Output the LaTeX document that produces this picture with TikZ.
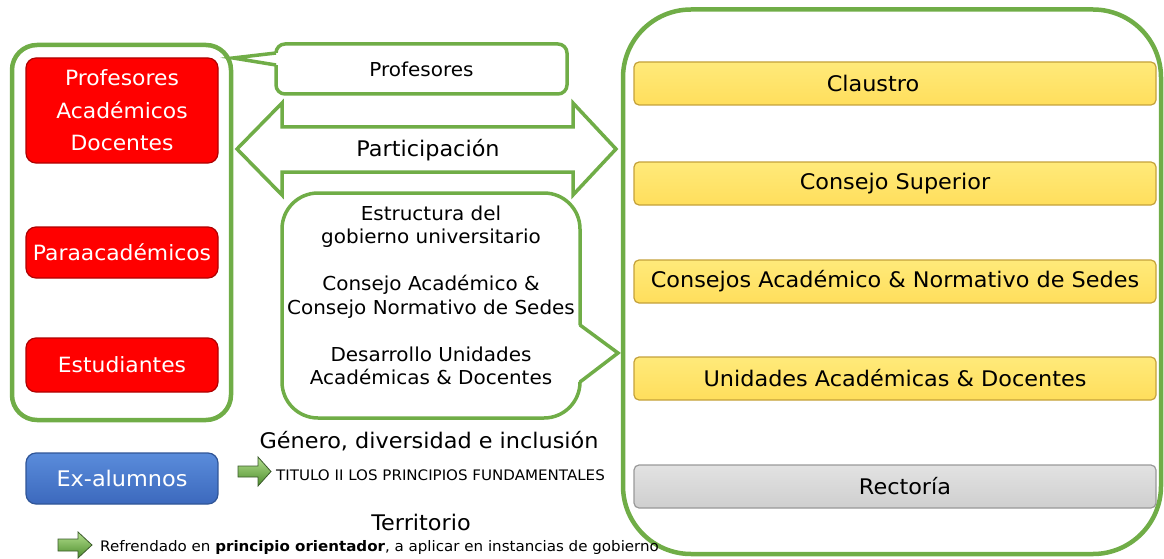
\documentclass[tikz,border=0pt]{standalone}
\usepackage{fontspec}
\setmainfont[FakeStretch=1.04]{DejaVu Sans}
\definecolor{gr}{HTML}{70AD47}
\definecolor{rd}{HTML}{FF0000}
\definecolor{rdD}{HTML}{B00000}
\definecolor{blT}{HTML}{5A8CDB}
\definecolor{blB}{HTML}{3C69BD}
\definecolor{blD}{HTML}{2F5597}
\definecolor{ylT}{HTML}{FFEA7A}
\definecolor{ylB}{HTML}{FFDE5C}
\definecolor{ylD}{HTML}{C4A13A}
\definecolor{gyT}{HTML}{E2E2E2}
\definecolor{gyB}{HTML}{CFCFCF}
\definecolor{gyD}{HTML}{999999}
\definecolor{agT}{HTML}{B4E08E}
\definecolor{agB}{HTML}{4C8C2C}
\definecolor{agD}{HTML}{3A5A2A}
\begin{document}
\begin{tikzpicture}[x=1pt,y=-1pt,
  grp/.style={draw=gr, line width=4.5pt, rounded corners=#1, inner sep=0pt},
  redbox/.style={rectangle, rounded corners=10pt, fill=rd, draw=rdD, line width=1.2pt,
    text=white, minimum width=192pt, inner sep=0pt, align=center,
    font=\fontsize{21pt}{32.5pt}\selectfont},
  bluebox/.style={rectangle, rounded corners=10pt, top color=blT, bottom color=blB, draw=blD,
    line width=1.2pt, text=white, minimum width=192pt, inner sep=0pt,
    font=\fontsize{21.5pt}{26pt}\selectfont},
  callbox/.style={rectangle, draw=gr, line width=3.5pt, fill=white, inner sep=0pt},
  callline/.style={draw=gr, line width=3.5pt, line join=miter},
  darrow/.style={draw=gr, line width=3.5pt, fill=white, line join=miter},
  bar/.style={rectangle, rounded corners=5pt, top color=ylT, bottom color=ylB, draw=ylD,
    line width=1.2pt, minimum width=522pt, minimum height=43pt, inner sep=0pt,
    font=\fontsize{21.5pt}{25pt}\selectfont},
  greybar/.style={bar, top color=gyT, bottom color=gyB, draw=gyD},
  midtext/.style={font=\fontsize{19.2pt}{23.5pt}\selectfont, align=center, inner sep=0pt},
  bigtext/.style={font=\fontsize{21.5pt}{26pt}\selectfont, inner sep=0pt},
  smalltext/.style={font=\fontsize{14.5pt}{17pt}\selectfont, inner sep=0pt, anchor=west},
  garrow/.style={top color=agT, bottom color=agB, draw=agD, line width=0.8pt, line join=miter}
]
\useasboundingbox (0,0) rectangle (1164,559);

% left group
\node[grp=25pt, minimum width=219pt, minimum height=375pt] (leftgrp) at (121.5,232.5) {};
\node[redbox, minimum height=105pt] (prof) at (122,110.5) {Profesores\\Académicos\\Docentes};
\node[redbox, minimum height=51pt] (para) at (122,252.5) {Paraacadémicos};
\node[redbox, minimum height=54pt] (est) at (122,365) {Estudiantes};
\node[bluebox, minimum height=51pt] (exal) at (122,478.5) {Ex-alumnos};

% Profesores callout
\node[callbox, rounded corners=9pt, minimum width=291pt, minimum height=50pt,
  font=\fontsize{19.2pt}{23pt}\selectfont] (pcall) at (421.5,69) {Profesores};
\coordinate (ptip) at (233,58);
\fill[white] (278,53) -- (ptip) -- (278,65) -- cycle;
\draw[callline] (276,53) -- (ptip) -- (276,65);

% Participacion double arrow
\draw[darrow] (237,149) -- (282,103) -- (282,127) -- (573,127) -- (573,103) -- (616,149)
  -- (573,195) -- (573,172) -- (282,172) -- (282,195) -- cycle;
\node[bigtext] (part) at (428,150) {Participación};

% Structure callout
\node[callbox, rounded corners=36pt, minimum width=298pt, minimum height=225pt] (scall) at (431,305.5) {};
\coordinate (stip) at (618,353);
\fill[white] (578,325) -- (stip) -- (578,382) -- cycle;
\draw[callline] (580,325) -- (stip) -- (580,382);
\node[midtext] (stxt) at (431,295.5) {Estructura del\\gobierno universitario\\[23.5pt]Consejo Académico \&\\Consejo Normativo de Sedes\\[23.5pt]Desarrollo Unidades\\Académicas \& Docentes};

% right group
\node[grp=68pt, minimum width=538pt, minimum height=544.5pt] (rightgrp) at (892,281.75) {};
\node[bar] (claus) at (895,83.5) {\hspace*{-44pt}Claustro};
\node[bar] (csup) at (895,183.5) {Consejo Superior};
\node[bar] (cacad) at (895,281.5) {Consejos Académico \& Normativo de Sedes};
\node[bar] (unid) at (895,378.5) {Unidades Académicas \& Docentes};
\node[greybar] (rect) at (895,486.5) {Rectoría\hspace*{-20pt}};

% bottom texts
\node[bigtext] (gen) at (429,441) {Género, diversidad e inclusión};
\draw[garrow] (238,466) -- (258,466) -- (258,457) -- (271,471.5) -- (258,486) -- (258,477) -- (238,477) -- cycle;
\node[smalltext] (tit) at (276,475.5) {TITULO II LOS PRINCIPIOS FUNDAMENTALES};
\node[bigtext] (terr) at (421,522) {Territorio};
\draw[garrow] (58,539) -- (78,539) -- (78,532) -- (92,545) -- (78,558) -- (78,551) -- (58,551) -- cycle;
\node[smalltext] (refr) at (100,547) {Refrendado en \textbf{principio orientador}, a aplicar en instancias de gobierno};
\end{tikzpicture}
\end{document}
